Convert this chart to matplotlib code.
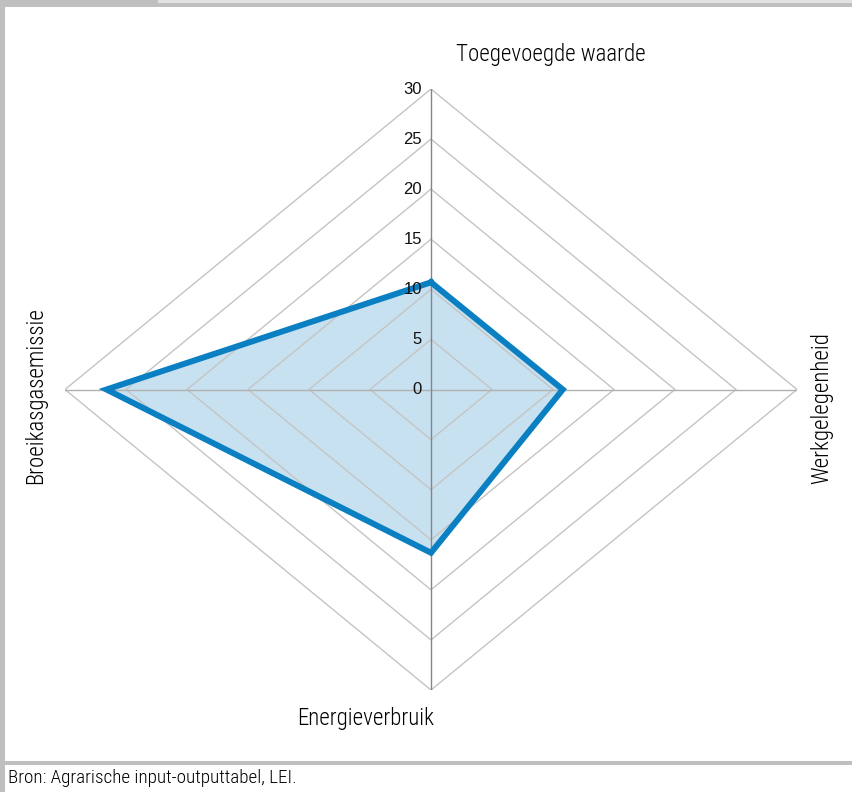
import numpy as np
import matplotlib
matplotlib.use("Agg")
import matplotlib.pyplot as plt
from matplotlib.patches import Rectangle
from matplotlib import font_manager
import matplotlib.transforms as mtransforms

# data
categories = ["Toegevoegde waarde", "Werkgelegenheid", "Energieverbruik", "Broeikasgasemissie"]
values = [10.7, 10.8, 16.3, 26.6]
rings = [5, 10, 15, 20, 25, 30]
tick_labels = [0, 5, 10, 15, 20, 25, 30]
source = "Bron: Agrarische input-outputtabel, LEI."

# pick a narrow font if one is there
names = {f.name for f in font_manager.fontManager.ttflist}
narrow = [n for n in ["Liberation Sans Narrow", "Roboto Condensed",
                      "Open Sans Condensed", "DejaVu Sans Condensed"] if n in names]
label_font = narrow + ["DejaVu Sans"]
tick_font = ["Liberation Sans", "DejaVu Sans"]
label_kw = dict(family=label_font, fontstretch="condensed", fontweight="light")

fig = plt.figure(figsize=(8.53, 7.92), dpi=100)
fig.patch.set_facecolor("white")

ax = fig.add_axes([65 / 853, 1 - 690 / 792, 732 / 853, 601 / 792])
ax.set_xlim(-30, 30)
ax.set_ylim(-30, 30)
ax.axis("off")

# clockwise from the top
angles = np.pi / 2 - np.arange(len(categories)) * np.pi / 2

def to_xy(r):
    r = np.asarray(r, dtype=float)
    x = r * np.cos(angles)
    y = r * np.sin(angles)
    return np.append(x, x[0]), np.append(y, y[0])

# series fill below the grid
vx, vy = to_xy(values)
ax.fill(vx, vy, color="#c8e1f0", zorder=1)

# grid rings
for r in rings:
    gx, gy = to_xy([r] * len(categories))
    ax.plot(gx, gy, color="#c4c4c4", lw=1.0, zorder=2)

# spokes
ax.plot([-30, 30], [0, 0], color="#b0b0b0", lw=1.0, zorder=3)
ax.plot([0, 0], [-30, 30], color="#858585", lw=1.0, zorder=3)

ax.plot(vx, vy, color="#0a7fc1", lw=4.3, solid_joinstyle="miter", zorder=5)

# tick labels on vertical axis
off = mtransforms.offset_copy(ax.transData, fig=fig, x=-9, y=0, units="dots")
for t in tick_labels:
    ax.text(0, t, str(t), transform=off, ha="right", va="center",
            fontsize=12, family=tick_font, color="#111111", zorder=6)

# category labels
fig.text(551 / 853, 1 - 55 / 792, categories[0], ha="center", va="center",
         fontsize=16.5, **label_kw)
fig.text(822 / 853, 1 - 408 / 792, categories[1], ha="center", va="center",
         fontsize=16.5, rotation=90, **label_kw)
fig.text(366 / 853, 1 - 718 / 792, categories[2], ha="center", va="center",
         fontsize=16.5, **label_kw)
fig.text(36 / 853, 1 - 396 / 792, categories[3], ha="center", va="center",
         fontsize=16.5, rotation=90, **label_kw)

# frame
W, H = 853, 792
def rect(x, y, w, h, c):
    fig.add_artist(Rectangle((x / W, 1 - (y + h) / H), w / W, h / H,
                             transform=fig.transFigure, color=c, lw=0))

rect(0, 0, W, 7, "#bfbfbf")
rect(158, 0, W - 158, 3, "#e2e2e2")
rect(0, 0, 5, H, "#bfbfbf")
rect(0, 761, W, 4, "#bfbfbf")

fig.text(8 / W, 1 - 778 / H, source, ha="left", va="center",
         fontsize=13.8, **label_kw)

fig.savefig("out.png", dpi=100)
